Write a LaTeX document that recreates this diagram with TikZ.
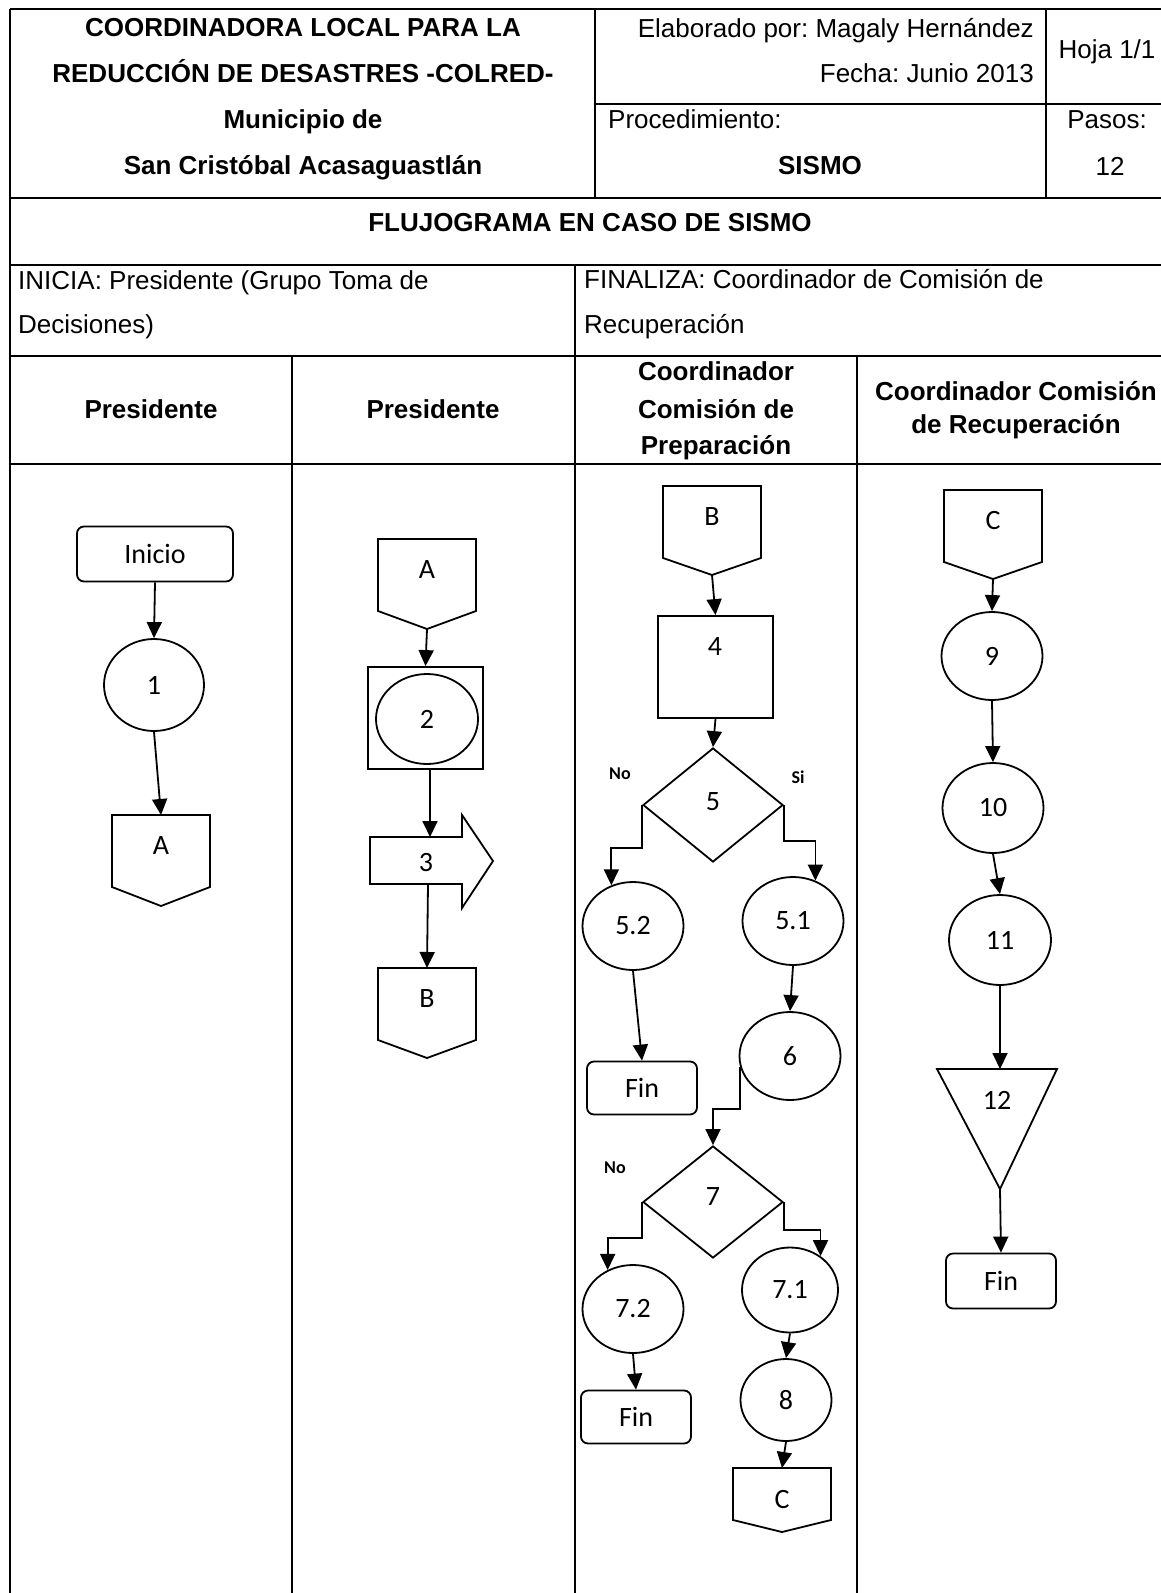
\documentclass[tikz,border=0pt]{standalone}
\usepackage{fontspec}
\setmainfont{Liberation Sans}
\newfontfamily\calfont{Carlito}
\usetikzlibrary{shapes.geometric,arrows.meta,calc}
\frenchspacing
\newcommand{\offpg}[6]{%
  \draw[shp] (#2-49,#3) -- (#2+49,#3) -- (#2+49,#3+#5) -- (#2,#3+#5+#6) -- (#2-49,#3+#5) -- cycle;
  \coordinate (#1-top) at (#2,#3);
  \coordinate (#1-bot) at (#2,#3+#5+#6);
  \node[lbl] (#1) at (#2,#3+31) {#4};
}
\begin{document}
\frenchspacing
\begin{tikzpicture}[x=1pt,y=-1pt,
  tline/.style={line width=1.4pt},
  shp/.style={draw,line width=1.8pt},
  hdr/.style={inner sep=0pt,font=\fontsize{26}{30}\selectfont},
  hdrb/.style={inner sep=0pt,font=\fontsize{26}{30}\selectfont\bfseries},
  lbl/.style={inner sep=0pt,font=\calfont\fontsize{28}{32}\selectfont},
  yn/.style={inner sep=0pt,font=\calfont\bfseries\fontsize{18}{20}\selectfont},
  circ/.style={shp,ellipse,inner sep=0pt,font=\calfont\fontsize{28}{32}\selectfont},
  term/.style={shp,rectangle,rounded corners=7pt,inner sep=0pt,font=\calfont\fontsize{28}{32}\selectfont},
  box/.style={shp,rectangle,inner sep=0pt},
  dia/.style={shp,diamond,inner sep=0pt},
  arr/.style={line width=1.8pt,-{Triangle[length=16pt,width=15pt]}}]
\useasboundingbox (0,0) rectangle (1161,1593);
% ---- table ----
\draw[tline] (10,9) -- (1161,9);
\draw[tline] (10,9) -- (10,1593);
\draw[tline] (595,9) -- (595,198);
\draw[tline] (1046,9) -- (1046,198);
\draw[tline] (595,104) -- (1161,104);
\draw[tline] (10,198) -- (1161,198);
\draw[tline] (10,265) -- (1161,265);
\draw[tline] (575,265) -- (575,356);
\draw[tline] (10,356) -- (1161,356);
\draw[tline] (292,356) -- (292,1593);
\draw[tline] (575,356) -- (575,1593);
\draw[tline] (857,356) -- (857,1593);
\draw[tline] (10,464) -- (1161,464);
% ---- header texts ----
\node[hdrb,anchor=base] (hA) at (303,36) {COORDINADORA LOCAL PARA LA};
\node[hdrb,anchor=base] (hB) at (303,82) {REDUCCIÓN DE DESASTRES -COLRED-};
\node[hdrb,anchor=base] (hC) at (303,128) {Municipio de};
\node[hdrb,anchor=base] (hD) at (303,174) {San Cristóbal Acasaguastlán};
\node[hdr,anchor=base east] (hE) at (1034,37) {Elaborado por: Magaly Hernández};
\node[hdr,anchor=base east] (hF) at (1034,82) {Fecha: Junio 2013};
\node[hdr,anchor=base] (hG) at (1107,58) {Hoja 1/1};
\node[hdr,anchor=base west] (hH) at (608,128) {Procedimiento:};
\node[hdrb,anchor=base] (hI) at (820,174) {SISMO};
\node[hdr,anchor=base] (hJ) at (1107,128) {Pasos:};
\node[hdr,anchor=base] (hK) at (1110,175) {12};
\node[hdrb,anchor=base] (hL) at (590,231) {FLUJOGRAMA EN CASO DE SISMO};
\node[hdr,anchor=base west] (hM) at (18,289) {INICIA: Presidente (Grupo Toma de};
\node[hdr,anchor=base west] (hN) at (18,333) {Decisiones)};
\node[hdr,anchor=base west] (hO) at (584,288) {FINALIZA: Coordinador de Comisión de};
\node[hdr,anchor=base west] (hP) at (584,333) {Recuperación};
\node[hdrb,anchor=base] (lane1) at (151,418) {Presidente};
\node[hdrb,anchor=base] (lane2) at (433,418) {Presidente};
\node[hdrb,anchor=base] (lane3a) at (716,380) {Coordinador};
\node[hdrb,anchor=base] (lane3b) at (716,418) {Comisión de};
\node[hdrb,anchor=base] (lane3c) at (716,454) {Preparación};
\node[hdrb,anchor=base] (lane4a) at (1016,400) {Coordinador Comisión};
\node[hdrb,anchor=base] (lane4b) at (1016,433) {de Recuperación};
% ---- lane 1 ----
\node[term,minimum width=156pt,minimum height=55pt] (ini) at (155,554) {Inicio};
\node[circ,minimum width=100pt,minimum height=92pt] (c1) at (154,685) {1};
\offpg{A1}{161}{815}{A}{72}{19}
\draw[arr] (ini.south) -- (c1.north);
\draw[arr] (c1.south) -- (A1-top);
% ---- lane 2 ----
\offpg{A2}{427}{539}{A}{72}{18}
\node[box,minimum width=115pt,minimum height=102pt] (s2) at (425.5,718) {};
\node[circ,minimum width=102pt,minimum height=90pt] (c2) at (427,719) {2};
\draw[shp] (370,837) -- (462,837) -- (462,815) -- (493,861) -- (462,908) -- (462,884) -- (370,884) -- cycle;
\coordinate (ar3-top) at (430,837);
\coordinate (ar3-bot) at (428,884);
\node[lbl] (l3) at (426,862) {3};
\offpg{B2}{427}{968}{B}{72}{18}
\draw[arr] (A2-bot) -- (s2.north);
\draw[arr] (s2.south -| ar3-top) -- (ar3-top);
\draw[arr] (ar3-bot) -- (B2-top);
% ---- lane 3 ----
\offpg{B3}{712}{486}{B}{72}{17}
\node[box,minimum width=115pt,minimum height=102pt] (r4) at (715.5,667) {};
\node[lbl] (l4) at (715,647) {4};
\node[dia,minimum width=140pt,minimum height=114pt] (d5) at (713,805) {};
\node[lbl] (l5) at (713,802) {5};
\node[yn] (no5) at (620,774) {No};
\node[yn] (si5) at (798,777) {Si};
\node[circ,minimum width=101pt,minimum height=88pt] (c52) at (633,926) {5.2};
\node[circ,minimum width=101pt,minimum height=88pt] (c51) at (793,921) {5.1};
\node[term,minimum width=110pt,minimum height=53pt] (fin1) at (642,1088) {Fin};
\node[circ,minimum width=101pt,minimum height=88pt] (c6) at (790,1056) {6};
\node[dia,minimum width=140pt,minimum height=112pt] (d7) at (713,1202) {};
\node[lbl] (l7) at (713,1197) {7};
\node[yn] (no7) at (615,1168) {No};
\node[circ,minimum width=101pt,minimum height=88pt] (c72) at (633,1309) {7.2};
\node[circ,minimum width=96pt,minimum height=85pt] (c71) at (790,1290) {7.1};
\node[term,minimum width=110pt,minimum height=53pt] (fin2) at (636,1417) {Fin};
\node[circ,minimum width=91pt,minimum height=82pt] (c8) at (786,1400) {8};
\offpg{C3}{782}{1468}{C}{52}{12}
\draw[arr] (B3-bot) -- (r4.north);
\draw[arr] (r4.south) -- (d5.north);
\draw[arr] (d5.west) -- ++(0,43) -| (c52.118);
\draw[arr] (d5.east) -- ++(0,36) -| (c51.61);
\draw[arr] (c52.south) -- (fin1.north);
\draw[arr] (c51.south) -- (c6.north);
\path (d7.north) ++(0,-36) coordinate (k6);
\draw[arr] (c6.192) |- (k6) -- (d7.north);
\draw[arr] (d7.west) -- ++(0,36) -| (c72.123);
\draw[arr] (d7.east) -- ++(0,28) -| (c71.48);
\draw[arr] (c72.south) -- (fin2.north);
\draw[arr] (c71.south) -- (c8.north);
\draw[arr] (c8.south) -- (C3-top);
% ---- lane 4 ----
\offpg{C4}{993}{490}{C}{72}{17}
\node[circ,minimum width=101pt,minimum height=88pt] (c9) at (992,656) {9};
\node[circ,minimum width=101pt,minimum height=90pt] (c10) at (993,808) {10};
\node[circ,minimum width=102pt,minimum height=90pt] (c11) at (1000,940) {11};
\draw[shp] (937,1069) -- (1057,1069) -- (1000,1189) -- cycle;
\coordinate (t12-top) at (1000,1069);
\coordinate (t12-bot) at (1000,1189);
\node[lbl] (l12) at (997,1100) {12};
\node[term,minimum width=110pt,minimum height=55pt] (fin3) at (1001,1281) {Fin};
\draw[arr] (C4-bot) -- (c9.north);
\draw[arr] (c9.south) -- (c10.north);
\draw[arr] (c10.south) -- (c11.north);
\draw[arr] (c11.south) -- (t12-top);
\draw[arr] (t12-bot) -- (fin3.north);
\end{tikzpicture}
\end{document}
